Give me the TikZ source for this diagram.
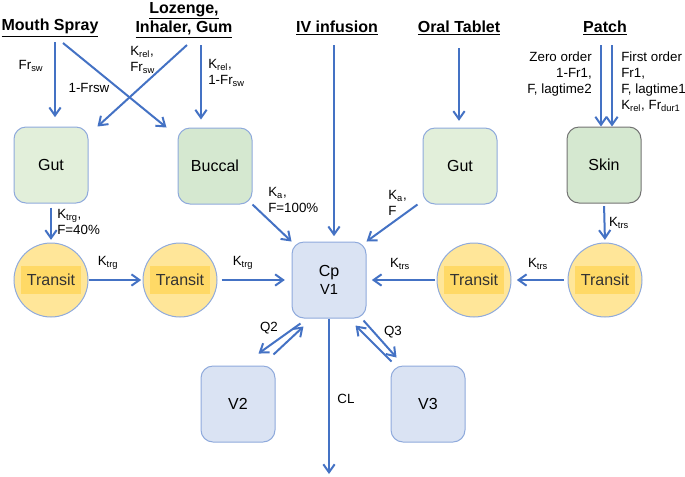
\documentclass[tikz,border=0pt]{standalone}
\usepackage{fontspec}
\setmainfont{Liberation Sans}
\usepackage{tikz}
\usetikzlibrary{calc,arrows.meta}
\definecolor{flowblue}{HTML}{4472C4}
\definecolor{boxedge}{HTML}{8FAADC}
\definecolor{gutfill}{HTML}{E2EFDA}
\definecolor{bucfill}{HTML}{D5E8D0}
\definecolor{cpfill}{HTML}{DAE3F3}
\definecolor{transfill}{HTML}{FFE699}
\definecolor{transin}{HTML}{FFD966}

\begin{document}
\begin{tikzpicture}[x=0.75pt,y=-0.75pt,
		flow/.style={draw=flowblue,line width=1.5pt,-{Straight Barb[length=6pt,width=8.5pt]}},
		box/.style={draw=boxedge,line width=0.75pt,rounded corners=9pt,minimum width=55.5pt,minimum height=57pt,inner sep=0pt,font=\fontsize{12}{14}\selectfont},
		title/.style={font=\bfseries\fontsize{12}{13.5}\selectfont,align=center,inner sep=0pt},
		lbl/.style={font=\fontsize{10}{12}\selectfont,inner sep=0pt},
		transit/.style={circle,draw=boxedge,line width=0.75pt,fill=transfill,minimum size=55.5pt,inner sep=0pt},
		transitlbl/.style={fill=transin,minimum width=45pt,minimum height=21pt,inner sep=0pt,text=black!80,font=\fontsize{12}{14}\selectfont}]
		\useasboundingbox (0,0) rectangle (685,476);
		
		%routes
		\node[title] (ms) at (50,28) {\underline{Mouth Spray}};
		\node[title] (lz) at (184,20) {\underline{Lozenge,}\\[1pt]\underline{Inhaler, Gum}};
		\node[title] (iv) at (337,28) {\underline{IV infusion}};
		\node[title] (ot) at (459,28) {\underline{Oral Tablet}};
		\node[title] (pa) at (605,28) {\underline{Patch}};
		
		\coordinate (msa) at (55,42);
		\coordinate (msb) at (63,43);
		\coordinate (lza) at (187,45);
		\coordinate (lzb) at (201,45);
		\coordinate (iva) at (334,45);
		\coordinate (ota) at (459,48);
		\coordinate (paa) at (601,45);
		\coordinate (pab) at (612,45);
		\coordinate (out) at (329,474);
		
		%depots
		\node[box,fill=gutfill] (gut1) at (51,165) {Gut};
		\node[box,fill=bucfill] (buc) at (215,166) {Buccal};
		\node[box,fill=gutfill] (gut2) at (460,166) {Gut};
		\node[box,fill=bucfill,draw=black!55] (skin) at (604,165) {Skin};
		
		%central and peripheral
		\node[box,fill=cpfill,align=center] (cp) at (329,280) {Cp\\[-1pt]{\fontsize{11}{13}\selectfont V1}};
		\node[box,fill=cpfill] (v2) at (238,404) {V2};
		\node[box,fill=cpfill] (v3) at (428,404) {V3};
		
		%transit compartments
		\foreach \n/\x in {t1/51,t2/180,t3/474,t4/605}{
			\node[transit] (\n) at (\x,280) {};
			\node[transitlbl] (\n l) at (\n) {Transit};
		}
		
		%inputs
		\draw[flow,shorten >=7pt] (msa) -- (msa |- gut1.north);
		\draw[flow] (msb) -- ($(buc.north west)+(-11,0)$);
		\draw[flow] (lza) -- ($(gut1.north east)+(9,0)$);
		\draw[flow,shorten >=6pt] (lzb) -- (lzb |- buc.north);
		\draw[flow,shorten >=4pt] (iva) -- (iva |- cp.north);
		\draw[flow,shorten >=5pt] (ota) -- (ota |- gut2.north);
		\draw[flow] (paa) -- (paa |- skin.north);
		\draw[flow] (pab) -- (pab |- skin.north);
		
		%absorption
		\draw[flow,shorten <=3pt,shorten >=2pt] (gut1.south) -- (t1.north);
		\draw[flow,shorten <=2pt,shorten >=2pt] (skin.south) -- (t4.north);
		\draw[flow,shorten >=1pt] (t1.east) -- (t2.west);
		\draw[flow,shorten <=3pt,shorten >=5pt] (t2.east) -- (cp.west);
		\draw[flow,shorten <=1pt,shorten >=4pt] (t3.west) -- (cp.east);
		\draw[flow,shorten <=3pt,shorten >=4pt] (t4.west) -- (t3.east);
		\draw[flow] (buc.south east) -- (cp.north west);
		\draw[flow] ($(gut2.south west)+(-5,0)$) -- (cp.north east);
		
		%distribution and elimination
		\draw[flow] ($(cp.south west)+(9,5)$) -- ($(v2.north east)+(-17,-12)$);
		\draw[flow] ($(v2.north east)+(-2,-11)$) -- ($(cp.south west)+(12,8)$);
		\draw[flow] ($(cp.south east)+(-3,2)$) -- ($(v3.north west)+(6,-8)$);
		\draw[flow] ($(v3.north west)+(1,-4)$) -- ($(cp.south east)+(-11,7)$);
		\draw[flow] (cp.south) -- (out);
		
		%rates
		\node[lbl] (fsw) at (31,66) {Fr\textsubscript{sw}};
		\node[lbl] (fsw1) at (89,88) {1-Frsw};
		\node[lbl,align=left,anchor=west] (krel1) at (130,60) {K\textsubscript{rel},\\Fr\textsubscript{sw}};
		\node[lbl,align=left,anchor=west] (krel2) at (208,73) {K\textsubscript{rel},\\1-Fr\textsubscript{sw}};
		\node[lbl,align=right,anchor=east] (zo) at (592,74) {Zero order\\1-Fr1,\\F, lagtime2};
		\node[lbl,align=left,anchor=west] (fo) at (621,82) {First order\\Fr1,\\F, lagtime1\\K\textsubscript{rel}, Fr\textsubscript{dur1}};
		\node[lbl,align=left,anchor=west] (ka1) at (268,200) {K\textsubscript{a},\\F=100\%};
		\node[lbl,align=left,anchor=west] (ka2) at (388,203) {K\textsubscript{a},\\F};
		\node[lbl,align=left,anchor=west] (ktrg0) at (57,222) {K\textsubscript{trg},\\F=40\%};
		\node[lbl] (ktrg1) at (108,263) {K\textsubscript{trg}};
		\node[lbl] (ktrg2) at (243,263) {K\textsubscript{trg}};
		\node[lbl] (ktrs1) at (400,264) {K\textsubscript{trs}};
		\node[lbl] (ktrs2) at (538,264) {K\textsubscript{trs}};
		\node[lbl] (ktrs3) at (619,223) {K\textsubscript{trs}};
		\node[lbl] (q2) at (269,328) {Q2};
		\node[lbl] (q3) at (393,332) {Q3};
		\node[lbl] (cl) at (346,399) {CL};
		
\end{tikzpicture}
\end{document}
